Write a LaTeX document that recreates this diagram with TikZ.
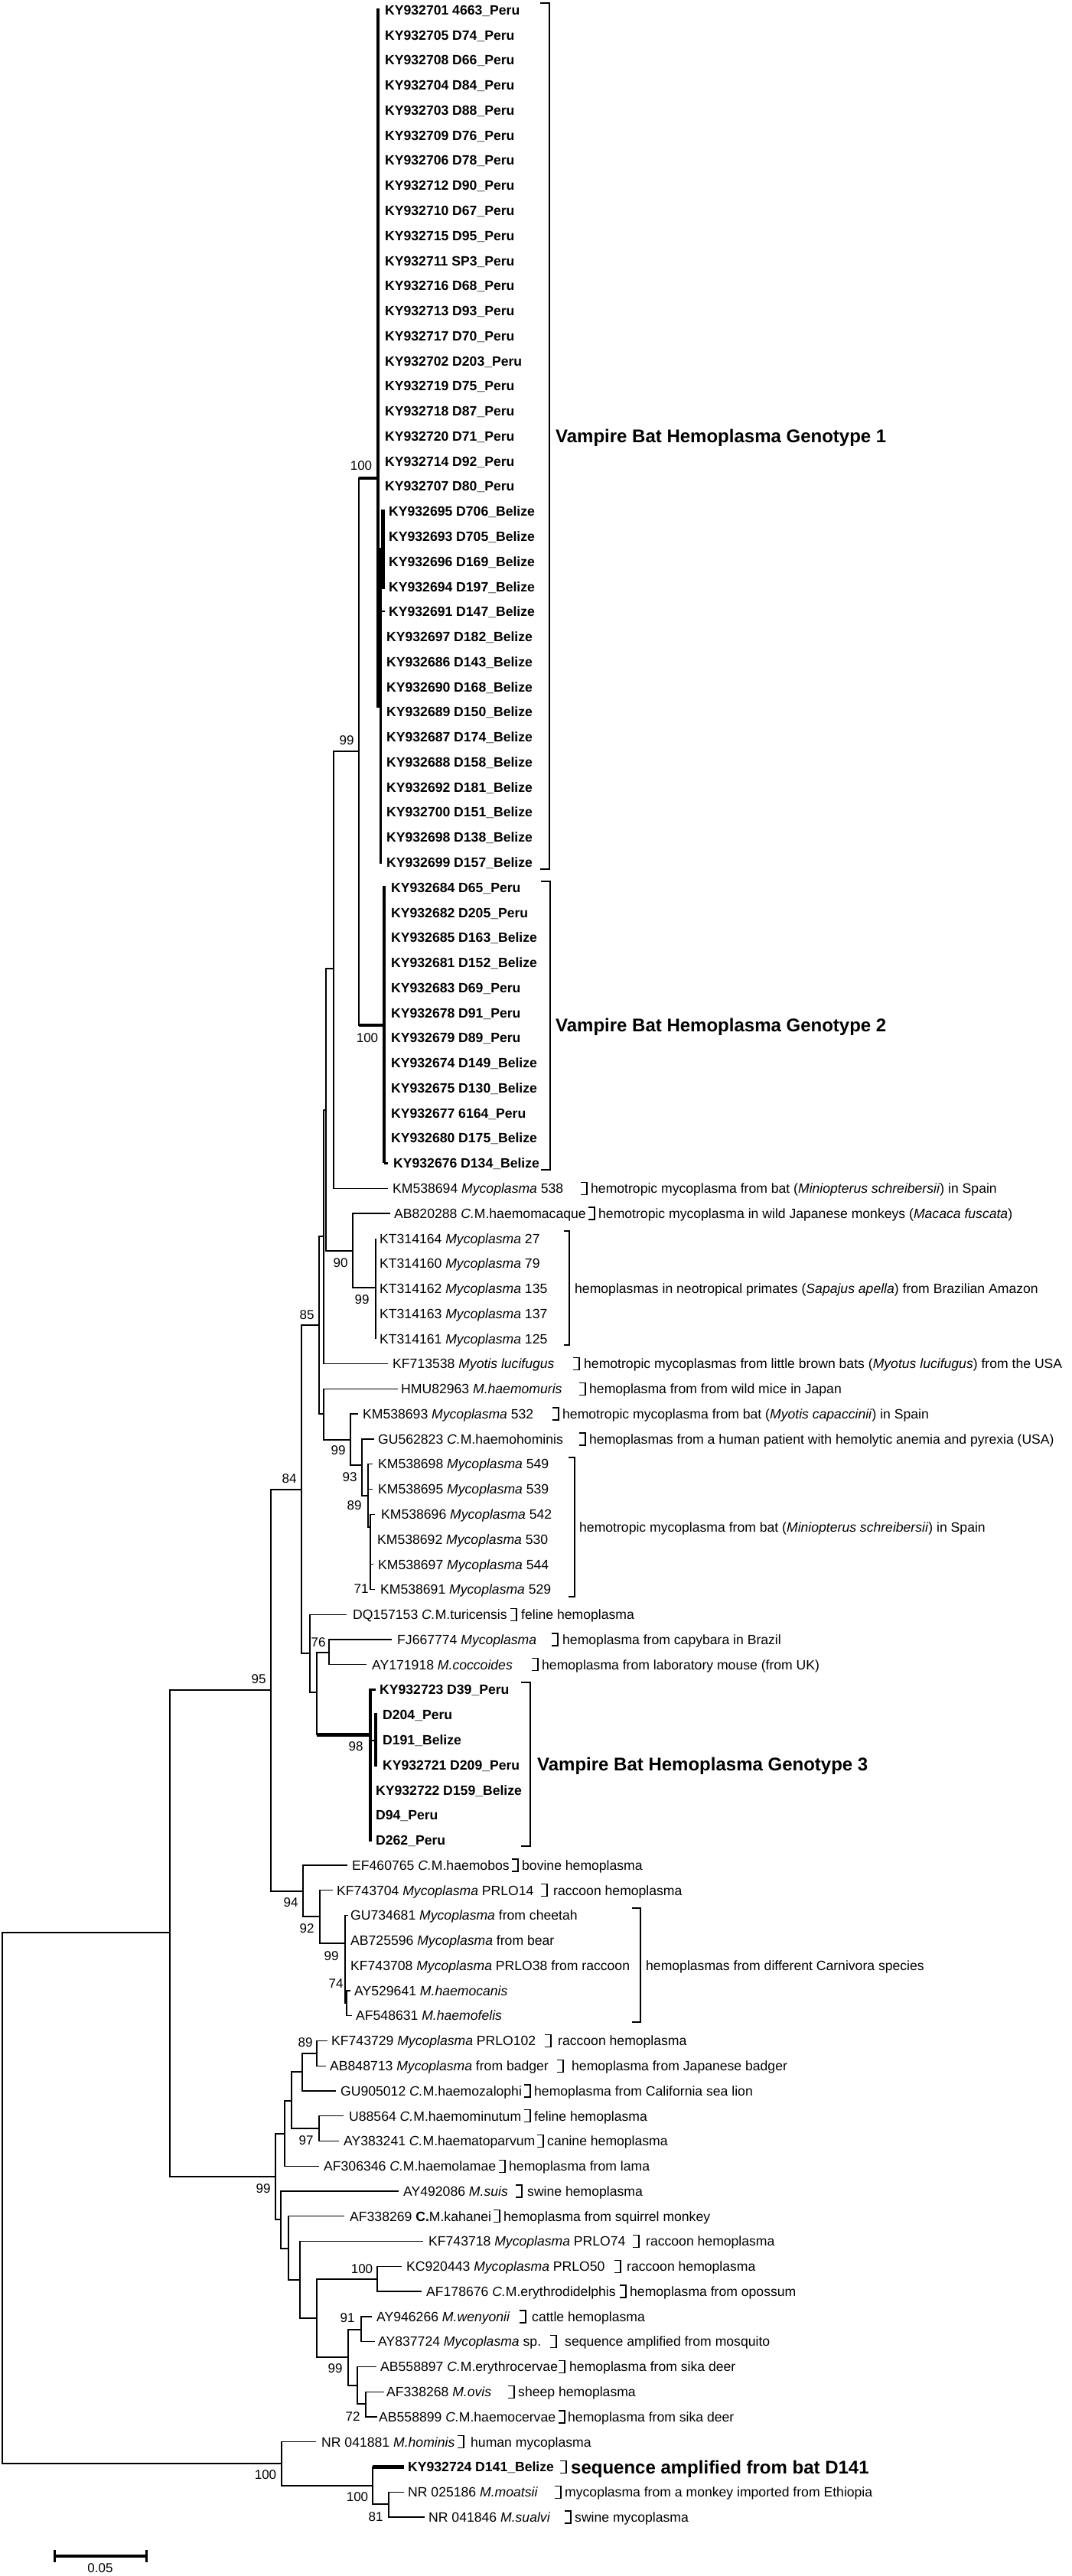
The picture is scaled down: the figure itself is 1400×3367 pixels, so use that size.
\documentclass[tikz,border=0pt]{standalone}
\usepackage{fontspec}
\setmainfont{Liberation Sans}
\newcommand{\RY}[1]{13+32.77*#1}
\newcommand{\TY}[1]{19.3+32.77*#1}
\newcommand{\brk}[2]{\draw[bk] ({#1-8},{#2-8}) -- (#1,{#2-8}) -- (#1,{#2+8}) -- ({#1-8},{#2+8});}
\newcommand{\brkm}[4]{\draw[bk] ({#1-#4},#2) -- (#1,#2) -- (#1,#3) -- ({#1-#4},#3);}
\newcommand{\leaf}[4]{\coordinate (t#1) at (#2,{\RY{#1}}); \node[tx] (l#1) at (#3,{\TY{#1}}) {#4};}
\newcommand{\info}[5]{\brk{#2}{\RY{#3}} \node[tx] (#1) at (#4,{\TY{#3}}) {#5};}
\begin{document}
\begin{tikzpicture}[x=1pt,y=-1pt,
 br/.style={line width=1.3pt},
 thk/.style={line width=4.5pt},
 bk/.style={line width=1.3pt},
 tx/.style={anchor=base west, inner sep=0pt, font=\fontsize{17.6}{20}\selectfont},
 btx/.style={anchor=base west, inner sep=0pt, font=\fontsize{17.6}{20}\selectfont\bfseries},
 grp/.style={anchor=base west, inner sep=0pt, font=\fontsize{24}{28}\selectfont\bfseries},
 bs/.style={anchor=center, inner sep=0pt, font=\fontsize{17}{19}\selectfont}]
\useasboundingbox (0,0) rectangle (1400,3367);
\fill[white] (0,0) rectangle (1400,3367);

% internal nodes
\coordinate (root) at (3,2873);
\coordinate (nIn) at (222,2526);
\coordinate (n95) at (354,2209);
\coordinate (n84) at (394,1947);
\coordinate (n85) at (417,1732);
\coordinate (N3) at (423,1616);
\coordinate (N2) at (426,1451);
\coordinate (N1) at (436,1266);
\coordinate (n99g) at (469,982);
\coordinate (g1) at (494,625);
\coordinate (g2) at (502,1340);
\coordinate (n90) at (461,1635);
\coordinate (n99p) at (491,1683);
\coordinate (N5) at (423,1848);
\coordinate (n99b) at (458,1882);
\coordinate (n93) at (473,1915);
\coordinate (n89) at (481,1955);
\coordinate (n6) at (484,1996);
\coordinate (nA) at (405,2161);
\coordinate (nB) at (414,2212);
\coordinate (nC) at (430,2160);
\coordinate (g3) at (484,2267);
\coordinate (n94) at (396,2472);
\coordinate (n92) at (418,2505);
\coordinate (n99c) at (451,2540);
\coordinate (n74) at (453,2618);
\coordinate (n99L) at (360,2845);
\coordinate (na) at (372,2789);
\coordinate (nb) at (381,2746);
\coordinate (nc) at (395,2708);
\coordinate (n89l) at (414,2684);
\coordinate (n97) at (417,2782);
\coordinate (nd) at (367,2901);
\coordinate (ne) at (377,2939);
\coordinate (nf) at (392,2980);
\coordinate (ng) at (414,3030);
\coordinate (n100k) at (493,2979);
\coordinate (n99d) at (455,3081);
\coordinate (n91) at (472,3045);
\coordinate (nh) at (467,3118);
\coordinate (n72) at (478,3142);
\coordinate (n100o) at (368,3220);
\coordinate (n100i) at (487,3249);
\coordinate (n81) at (508,3273);

% Genotype 1 labels
\foreach \i/\lab in {0/{KY932701 4663\_Peru},1/{KY932705 D74\_Peru},2/{KY932708 D66\_Peru},3/{KY932704 D84\_Peru},4/{KY932703 D88\_Peru},5/{KY932709 D76\_Peru},6/{KY932706 D78\_Peru},7/{KY932712 D90\_Peru},8/{KY932710 D67\_Peru},9/{KY932715 D95\_Peru},10/{KY932711 SP3\_Peru},11/{KY932716 D68\_Peru},12/{KY932713 D93\_Peru},13/{KY932717 D70\_Peru},14/{KY932702 D203\_Peru},15/{KY932719 D75\_Peru},16/{KY932718 D87\_Peru},17/{KY932720 D71\_Peru},18/{KY932714 D92\_Peru},19/{KY932707 D80\_Peru}}
  {\node[btx] (gl\i) at (503,{\TY{\i}}) {\lab};}
\foreach \i/\lab in {20/{KY932695 D706\_Belize},21/{KY932693 D705\_Belize},22/{KY932696 D169\_Belize},23/{KY932694 D197\_Belize},24/{KY932691 D147\_Belize}}
  {\node[btx] (gl\i) at (508,{\TY{\i}}) {\lab};}
\foreach \i/\lab in {25/{KY932697 D182\_Belize},26/{KY932686 D143\_Belize},27/{KY932690 D168\_Belize},28/{KY932689 D150\_Belize},29/{KY932687 D174\_Belize},30/{KY932688 D158\_Belize},31/{KY932692 D181\_Belize},32/{KY932700 D151\_Belize},33/{KY932698 D138\_Belize},34/{KY932699 D157\_Belize}}
  {\node[btx] (gl\i) at (505,{\TY{\i}}) {\lab};}
% Genotype 2 labels
\foreach \i/\lab in {35/{KY932684 D65\_Peru},36/{KY932682 D205\_Peru},37/{KY932685 D163\_Belize},38/{KY932681 D152\_Belize},39/{KY932683 D69\_Peru},40/{KY932678 D91\_Peru},41/{KY932679 D89\_Peru},42/{KY932674 D149\_Belize},43/{KY932675 D130\_Belize},44/{KY932677 6164\_Peru},45/{KY932680 D175\_Belize}}
  {\node[btx] (gl\i) at (511,{\TY{\i}}) {\lab};}
\node[btx] (gl46) at (514,{\TY{46}}) {KY932676 D134\_Belize};
% Genotype 3 labels
\node[btx] (gl67) at (496,{\TY{67}}) {KY932723 D39\_Peru};
\node[btx] (gl68) at (500,{\TY{68}}) {D204\_Peru};
\node[btx] (gl69) at (500,{\TY{69}}) {D191\_Belize};
\node[btx] (gl70) at (500,{\TY{70}}) {KY932721 D209\_Peru};
\node[btx] (gl71) at (491,{\TY{71}}) {KY932722 D159\_Belize};
\node[btx] (gl72) at (491,{\TY{72}}) {D94\_Peru};
\node[btx] (gl73) at (491,{\TY{73}}) {D262\_Peru};

% other leaves
\leaf{47}{507}{513}{KM538694 \textit{Mycoplasma} 538}
\leaf{48}{510}{515}{AB820288 \textit{C.}M.haemomacaque}
\leaf{49}{491}{496}{KT314164 \textit{Mycoplasma} 27}
\leaf{50}{491}{496}{KT314160 \textit{Mycoplasma} 79}
\leaf{51}{491}{496}{KT314162 \textit{Mycoplasma} 135}
\leaf{52}{491}{496}{KT314163 \textit{Mycoplasma} 137}
\leaf{53}{491}{496}{KT314161 \textit{Mycoplasma} 125}
\leaf{54}{507}{513}{KF713538 \textit{Myotis lucifugus}}
\leaf{55}{520}{524}{HMU82963 \textit{M.haemomuris}}
\leaf{56}{468}{474}{KM538693 \textit{Mycoplasma} 532}
\leaf{57}{489}{494}{GU562823 \textit{C.}M.haemohominis}
\leaf{58}{487}{494}{KM538698 \textit{Mycoplasma} 549}
\leaf{59}{487}{494}{KM538695 \textit{Mycoplasma} 539}
\leaf{60}{490}{498}{KM538696 \textit{Mycoplasma} 542}
\leaf{61}{484}{493}{KM538692 \textit{Mycoplasma} 530}
\leaf{62}{488}{494}{KM538697 \textit{Mycoplasma} 544}
\leaf{63}{490}{497}{KM538691 \textit{Mycoplasma} 529}
\leaf{64}{453}{461}{DQ157153 \textit{C.}M.turicensis}
\leaf{65}{512}{519}{FJ667774 \textit{Mycoplasma}}
\leaf{66}{479}{486}{AY171918 \textit{M.coccoides}}
\leaf{74}{454}{460}{EF460765 \textit{C.}M.haemobos}
\leaf{75}{435}{440}{KF743704 \textit{Mycoplasma} PRLO14}
\leaf{76}{455}{458}{GU734681 \textit{Mycoplasma} from cheetah}
\leaf{77}{451}{458}{AB725596 \textit{Mycoplasma} from bear}
\leaf{78}{451}{458}{KF743708 \textit{Mycoplasma} PRLO38 from raccoon}
\leaf{79}{458}{463}{AY529641 \textit{M.haemocanis}}
\leaf{80}{460}{465}{AF548631 \textit{M.haemofelis}}
\leaf{81}{428}{433}{KF743729 \textit{Mycoplasma} PRLO102}
\leaf{82}{426}{431}{AB848713 \textit{Mycoplasma} from badger}
\leaf{83}{439}{445}{GU905012 \textit{C.}M.haemozalophi}
\leaf{84}{449}{456}{U88564 \textit{C.}M.haemominutum}
\leaf{85}{443}{449}{AY383241 \textit{C.}M.haematoparvum}
\leaf{86}{417}{423}{AF306346 \textit{C.}M.haemolamae}
\leaf{87}{521}{527}{AY492086 \textit{M.suis}}
\leaf{88}{450}{457}{AF338269 \textbf{C.}M.kahanei}
\leaf{89}{553}{560}{KF743718 \textit{Mycoplasma} PRLO74}
\leaf{90}{525}{531}{KC920443 \textit{Mycoplasma} PRLO50}
\leaf{91}{551}{557}{AF178676 \textit{C.}M.erythrodidelphis}
\leaf{92}{486}{492}{AY946266 \textit{M.wenyonii}}
\leaf{93}{490}{494}{AY837724 \textit{Mycoplasma} sp.}
\leaf{94}{492}{497}{AB558897 \textit{C.}M.erythrocervae}
\leaf{95}{502}{505}{AF338268 \textit{M.ovis}}
\leaf{96}{493}{495}{AB558899 \textit{C.}M.haemocervae}
\leaf{97}{413}{420}{NR 041881 \textit{M.hominis}}
\coordinate (t98) at (528,{\RY{98}});
\node[btx] (l98) at (533,{\TY{98}}) {KY932724 D141\_Belize};
\leaf{99}{528}{533}{NR 025186 \textit{M.moatsii}}
\leaf{100}{555}{560}{NR 041846 \textit{M.sualvi}}

% branches
\draw[br] (root) |- (nIn);
\draw[br] (root) |- (n100o);
\draw[br] (nIn) |- (n95);
\draw[br] (nIn) |- (n99L);
\draw[br] (n95) |- (n84);
\draw[br] (n95) |- (n94);
\draw[br] (n84) |- (n85);
\draw[br] (n84) |- (nA);
\draw[br] (n85) |- (N3);
\draw[br] (n85) |- (N5);
\draw[br] (N3) |- (N2);
\draw[br] (N3) |- (t54);
\draw[br] (N2) |- (N1);
\draw[br] (N2) |- (n90);
\draw[br] (N1) |- (n99g);
\draw[br] (N1) |- (t47);
\draw[br] (n99g) |- (g1);
\draw[br] (n99g) |- (g2);
\draw[br] (n90) |- (t48);
\draw[br] (n90) |- (n99p);
\foreach \k in {49,...,53} \draw[br] (n99p) |- (t\k);
\draw[br] (N5) |- (t55);
\draw[br] (N5) |- (n99b);
\draw[br] (n99b) |- (t56);
\draw[br] (n99b) |- (n93);
\draw[br] (n93) |- (t57);
\draw[br] (n93) |- (n89);
\draw[br] (n89) |- (t58);
\draw[br] (n89) |- (t59);
\draw[br] (n89) |- (n6);
\foreach \k in {60,...,63} \draw[br] (n6) |- (t\k);
\draw[br] (nA) |- (t64);
\draw[br] (nA) |- (nB);
\draw[br] (nB) |- (nC);
\draw[br] (nB) |- (g3);
\draw[br] (nC) |- (t65);
\draw[br] (nC) |- (t66);
\draw[br] (n94) |- (t74);
\draw[br] (n94) |- (n92);
\draw[br] (n92) |- (t75);
\draw[br] (n92) |- (n99c);
\foreach \k in {76,77,78} \draw[br] (n99c) |- (t\k);
\draw[br] (n99c) |- (n74);
\draw[br] (n74) |- (t79);
\draw[br] (n74) |- (t80);
\draw[br] (n99L) |- (na);
\draw[br] (n99L) |- (nd);
\draw[br] (na) |- (nb);
\draw[br] (na) |- (t86);
\draw[br] (nb) |- (nc);
\draw[br] (nb) |- (n97);
\draw[br] (nc) |- (n89l);
\draw[br] (nc) |- (t83);
\draw[br] (n89l) |- (t81);
\draw[br] (n89l) |- (t82);
\draw[br] (n97) |- (t84);
\draw[br] (n97) |- (t85);
\draw[br] (nd) |- (t87);
\draw[br] (nd) |- (ne);
\draw[br] (ne) |- (t88);
\draw[br] (ne) |- (nf);
\draw[br] (nf) |- (t89);
\draw[br] (nf) |- (ng);
\draw[br] (ng) |- (n100k);
\draw[br] (ng) |- (n99d);
\draw[br] (n100k) |- (t90);
\draw[br] (n100k) |- (t91);
\draw[br] (n99d) |- (n91);
\draw[br] (n99d) |- (nh);
\draw[br] (n91) |- (t92);
\draw[br] (n91) |- (t93);
\draw[br] (nh) |- (t94);
\draw[br] (nh) |- (n72);
\draw[br] (n72) |- (t95);
\draw[br] (n72) |- (t96);
\draw[br] (n100o) |- (t97);
\draw[br] (n100o) |- (n100i);
\draw[br] (n100i) |- (t98);
\draw[br] (n100i) |- (n81);
\draw[br] (n81) |- (t99);
\draw[br] (n81) |- (t100);

% thick clade lines
\draw[line width=3.8pt] (g1 -| n99g) -- (g1);
\draw[line width=4.3pt] (494,11) -- (494,925);
\draw[line width=3.2pt] (497.5,716) -- (497.5,1129);
\draw[line width=3.5pt] (501,666) -- (501,770);
\draw[line width=1.3pt] (498.5,666) -- (498.5,716);
\draw[line width=2pt] (497,{\RY{24}}) -- (503,{\RY{24}});
\draw[line width=3.8pt] (g2 -| n99g) -- (g2);
\draw[thk] (502,{\RY{35}-2}) -- (502,{\RY{46}});
\draw[line width=3pt] (502,{\RY{46}}) -- (507,{\RY{46}});
\draw[line width=5pt] (g3 -| nB) -- (g3);
\draw[line width=4pt] (484,{\RY{67}-2}) -- (484,{\RY{73}+2});
\draw[line width=4pt] (491,{\RY{68}-2}) -- (491,{\RY{70}+2});
\draw[line width=3pt] (484,{\RY{67}}) -- (491,{\RY{67}});
\draw[line width=2pt] (484,2275) -- (491,2275);
\draw[line width=5pt] (t98 -| n100i) -- (t98);

% group brackets and labels
\brkm{718}{4}{1136}{12}
\node[grp] (G1) at (726,{570+8.6}) {Vampire Bat Hemoplasma Genotype 1};
\brkm{719}{1152}{1529}{12}
\node[grp] (G2) at (726,{1340+8.6}) {Vampire Bat Hemoplasma Genotype 2};
\brkm{693}{2199}{2413}{12}
\node[grp] (G3) at (702,{2306+8.6}) {Vampire Bat Hemoplasma Genotype 3};
\brkm{744}{1609}{1758}{7}
\node[tx] (dpri) at (751,{1684+6.3}) {hemoplasmas in neotropical primates (\textit{Sapajus apella}) from Brazilian Amazon};
\brkm{751}{1905}{2087}{8}
\node[tx] (dspa) at (757,{1996+6.3}) {hemotropic mycoplasma from bat (\textit{Miniopterus schreibersii}) in Spain};
\brkm{837}{2494}{2643}{11}
\node[tx] (dcar) at (844,{2569+6.3}) {hemoplasmas from different Carnivora species};

% single-row descriptions
\info{d47}{767}{47}{772}{hemotropic mycoplasma from bat (\textit{Miniopterus schreibersii}) in Spain}
\info{d48}{777}{48}{782}{hemotropic mycoplasma in wild Japanese monkeys (\textit{Macaca fuscata})}
\info{d54}{757}{54}{763}{hemotropic mycoplasmas from little brown bats (\textit{Myotus lucifugus}) from the USA}
\info{d55}{765}{55}{770}{hemoplasma from from wild mice in Japan}
\info{d56}{730}{56}{735}{hemotropic mycoplasma from bat (\textit{Myotis capaccinii}) in Spain}
\info{d57}{765}{57}{770}{hemoplasmas from a human patient with hemolytic anemia and pyrexia (USA)}
\info{d64}{675}{64}{681}{feline hemoplasma}
\info{d65}{729}{65}{735}{hemoplasma from capybara in Brazil}
\info{d66}{703}{66}{708}{hemoplasma from laboratory mouse (from UK)}
\info{d74}{677}{74}{682}{bovine hemoplasma}
\info{d75}{715}{75}{723}{raccoon hemoplasma}
\info{d81}{720}{81}{729}{raccoon hemoplasma}
\info{d82}{736}{82}{747}{hemoplasma from Japanese badger}
\info{d83}{693}{83}{698}{hemoplasma from California sea lion}
\info{d84}{693}{84}{698}{feline hemoplasma}
\info{d85}{710}{85}{715}{canine hemoplasma}
\info{d86}{660}{86}{665}{hemoplasma from lama}
\info{d87}{682}{87}{689}{swine hemoplasma}
\info{d88}{653}{88}{658}{hemoplasma from squirrel monkey}
\info{d89}{835}{89}{844}{raccoon hemoplasma}
\info{d90}{811}{90}{819}{raccoon hemoplasma}
\info{d91}{818}{91}{823}{hemoplasma from opossum}
\info{d92}{687}{92}{695}{cattle hemoplasma}
\info{d93}{727}{93}{738}{sequence amplified from mosquito}
\info{d94}{738}{94}{744}{hemoplasma from sika deer}
\info{d95}{672}{95}{677}{sheep hemoplasma}
\info{d96}{738}{96}{742}{hemoplasma from sika deer}
\info{d97}{606}{97}{615}{human mycoplasma}
\brk{740}{\RY{98}}
\node[grp] (d98) at (746,{\RY{98}+8.6}) {sequence amplified from bat D141};
\info{d99}{733}{99}{738}{mycoplasma from a monkey imported from Ethiopia}
\info{d100}{746}{100}{751}{swine mycoplasma}

% bootstrap values
\node[bs] (b01) at (472,609) {100};
\node[bs] (b02) at (453,968) {99};
\node[bs] (b03) at (480,1357) {100};
\node[bs] (b04) at (445,1651) {90};
\node[bs] (b05) at (473,1699) {99};
\node[bs] (b06) at (401,1719) {85};
\node[bs] (b07) at (378,1933) {84};
\node[bs] (b08) at (442,1896) {99};
\node[bs] (b09) at (457,1931) {93};
\node[bs] (b10) at (463,1968) {89};
\node[bs] (b11) at (472,2077) {71};
\node[bs] (b12) at (416,2147) {76};
\node[bs] (b13) at (465,2283) {98};
\node[bs] (b14) at (338,2195) {95};
\node[bs] (b15) at (380,2487) {94};
\node[bs] (b16) at (401,2521) {92};
\node[bs] (b17) at (433,2557) {99};
\node[bs] (b18) at (439,2593) {74};
\node[bs] (b19) at (399,2670) {89};
\node[bs] (b20) at (400,2798) {97};
\node[bs] (b21) at (344,2861) {99};
\node[bs] (b22) at (473,2966) {100};
\node[bs] (b23) at (454,3030) {91};
\node[bs] (b24) at (438,3096) {99};
\node[bs] (b25) at (461,3159) {72};
\node[bs] (b26) at (347,3235) {100};
\node[bs] (b27) at (467,3264) {100};
\node[bs] (b28) at (491,3290) {81};

% scale bar
\coordinate (sbL) at (71,3341);
\coordinate (sbR) at (191,3341);
\draw[line width=4pt] (sbL) -- (sbR);
\draw[line width=3pt] (71,3333) -- (71,3349);
\draw[line width=3pt] (191,3333) -- (191,3349);
\node[bs] (sbt) at (131,3357) {0.05};
\end{tikzpicture}
\end{document}
